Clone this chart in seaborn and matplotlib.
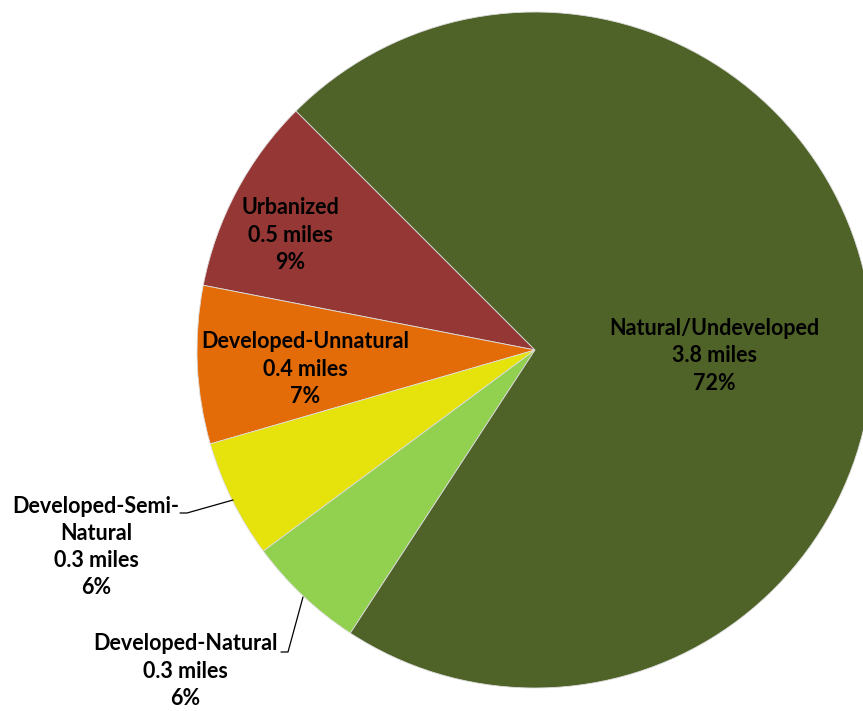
import matplotlib
matplotlib.use("Agg")
import matplotlib.pyplot as plt
import seaborn as sns
import numpy as np

sns.set_theme(style="white")
plt.rcParams['font.family'] = ['Lato', 'DejaVu Sans']

categories = ["Urbanized", "Developed-Unnatural", "Developed-Semi-\nNatural", "Developed-Natural", "Natural/Undeveloped"]
miles = [0.5, 0.4, 0.3, 0.3, 3.8]
pct_labels = ["9%", "7%", "6%", "6%", "72%"]
colors = ["#953735", "#E36C09", "#E6E20C", "#92D050", "#4F6228"]

W, H = 863, 711
fig = plt.figure(figsize=(W / 100, H / 100), dpi=100)
ax = fig.add_axes([0, 0, 1, 1])
R = 338.0
cx, cy = 535.0, 350.0

wedges, _ = ax.pie(miles, colors=colors, startangle=135, counterclock=True,
                   radius=1.0, center=(0, 0), frame=True,
                   wedgeprops=dict(linewidth=0.6, edgecolor="#dddddd"))
ax.set_xlim(-cx / R, (W - cx) / R)
ax.set_ylim(-(H - cy) / R, cy / R)
ax.set_aspect("equal")
ax.axis("off")

def p2d(x, y):
    return ((x - cx) / R, (cy - y) / R)

label_pos = [p2d(290, 235), p2d(305, 369), p2d(96, 547), p2d(185, 671), p2d(714, 356)]
texts = [f"{c}\n{m} miles\n{p}" for c, m, p in zip(categories, miles, pct_labels)]
fs = 15.5
for t, (x, y) in zip(texts, label_pos):
    ax.text(x, y, t, ha="center", va="center", fontsize=fs, fontweight="bold",
            color="black", linespacing=1.36)

def leader(pts):
    d = [p2d(*p) for p in pts]
    ax.plot([p[0] for p in d], [p[1] for p in d], color="black", lw=0.9)

leader([(180, 513), (187, 513), (233, 500)])
leader([(281, 652), (288, 652), (303, 597)])

fig.savefig("out.png", dpi=100)
